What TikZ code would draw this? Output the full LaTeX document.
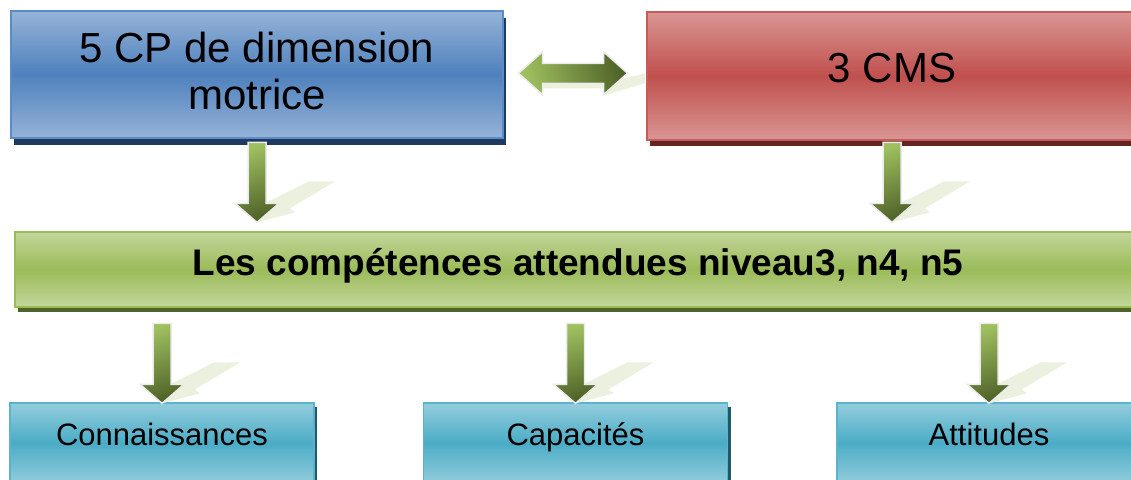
\documentclass[tikz,border=0pt]{standalone}
\usepackage{fontspec}
\setmainfont{Liberation Sans}
\usetikzlibrary{calc,shadows}
\definecolor{bluelt}{HTML}{95B3D7}
\definecolor{bluedk}{HTML}{4F81BD}
\definecolor{blueline}{HTML}{5B8BC8}
\definecolor{blueshd}{HTML}{1F3A5F}
\definecolor{redlt}{HTML}{D99694}
\definecolor{reddk}{HTML}{C0504D}
\definecolor{redline}{HTML}{C65B58}
\definecolor{redshd}{HTML}{632523}
\definecolor{grnlt}{HTML}{C3D69B}
\definecolor{grndk}{HTML}{9BBB59}
\definecolor{grnline}{HTML}{9BBB59}
\definecolor{grnshd}{HTML}{4F6228}
\definecolor{cyanlt}{HTML}{93CDDD}
\definecolor{cyandk}{HTML}{4BACC6}
\definecolor{cyanline}{HTML}{5BB4CC}
\definecolor{cyanshd}{HTML}{215968}
\definecolor{arrlt}{HTML}{9FC060}
\definecolor{arrdk}{HTML}{4F6228}
\definecolor{arrshadow}{HTML}{EBF1DE}
\newcommand{\blkdown}[1]{%
  \begin{scope}[shift={(#1)}]
    \fill[arrshadow] (0,0) -- (10,-20) -- (52,-41) -- (78,-41) -- (33,-14) -- (38,-10) -- cycle;
    \draw[blockarrow] (0,0) -- (-22,-19) -- (-9,-19) -- (-9,-80) -- (9,-80) -- (9,-19) -- (22,-19) -- cycle;
  \end{scope}}
\begin{document}
\begin{tikzpicture}[x=1pt,y=-1pt,
  box/.style={line width=1.3pt, inner sep=0pt},
  bluebox/.style={box, draw=blueline, top color=bluelt, bottom color=bluelt, middle color=bluedk,
    drop shadow={shadow xshift=3pt, shadow yshift=-7pt, fill=blueshd, opacity=1}},
  redbox/.style={box, draw=redline, top color=redlt, bottom color=redlt, middle color=reddk,
    drop shadow={shadow xshift=3pt, shadow yshift=-6pt, fill=redshd, opacity=1}},
  grnbox/.style={box, draw=grnline, top color=grnlt, bottom color=grnlt, middle color=grndk,
    drop shadow={shadow xshift=3pt, shadow yshift=-5pt, fill=grnshd, opacity=1}},
  cyanbox/.style={box, draw=cyanline, top color=cyanlt, bottom color=cyanlt, middle color=cyandk,
    minimum width=304pt, minimum height=80pt,
    drop shadow={shadow xshift=3pt, shadow yshift=-4pt, fill=cyanshd, opacity=1}},
  bigtxt/.style={font=\fontsize{42}{47}\selectfont, align=center, inner sep=0pt},
  bartxt/.style={font=\fontsize{37}{42}\selectfont\bfseries, inner sep=0pt},
  smalltxt/.style={font=\fontsize{31}{36}\selectfont, inner sep=0pt},
  blockarrow/.style={draw=white!92!black, line width=1.5pt, line join=miter,
    top color=arrlt, bottom color=arrdk, shading angle=20},
  dblarrow/.style={draw=white!92!black, line width=1.5pt,
    left color=arrlt, right color=arrdk, shading angle=105}
]
\useasboundingbox (0,0) rectangle (1131,479);
\clip (0,0) rectangle (1131,479);

% boxes
\node[bluebox, minimum width=492pt, minimum height=127pt] (cp) at (257,74.5) {};
\node[redbox, minimum width=490pt, minimum height=128pt] (cms) at (892,76) {};
\node[grnbox, minimum width=1126pt, minimum height=75pt] (bar) at (578,269.5) {};
\node[cyanbox] (conn) at (162,443) {};
\node[cyanbox] (capa) at (575.5,443) {};
\node[cyanbox] (atti) at (989,443) {};

% texts
\node[bigtxt] (cptext) at (257,71) {5 CP de dimension\\motrice};
\node[bigtxt, anchor=base] (cmstext) at (892,82) {3 CMS};
\node[bartxt, anchor=base] (bartext) at (578,275) {Les compétences attendues niveau3, n4, n5};
\node[smalltxt, anchor=base] (conntext) at (162,445) {Connaissances};
\node[smalltxt, anchor=base] (capatext) at (575.5,445) {Capacités};
\node[smalltxt, anchor=base] (attitext) at (989,445) {Attitudes};

% double arrow between the two top boxes
\coordinate (dm) at ($(cp.east)!0.5!(cms.west)+(-2,-2)$);
\begin{scope}[shift={(dm)}]
  \fill[arrshadow] (-30,10) -- (-30,15) -- (31,15) -- (31,21) -- (35,21) -- (72,10) -- (72,0) -- (45,7) -- (40,9) -- cycle;
  \draw[dblarrow] (-54.5,0) -- (-30.5,-21.5) -- (-30.5,-10) -- (30.5,-10) -- (30.5,-21.5) -- (54.5,0)
    -- (30.5,21.5) -- (30.5,10) -- (-30.5,10) -- (-30.5,21.5) -- cycle;
\end{scope}

% down arrows
\coordinate (t1) at ($(cp.center |- bar.north)+(0,-9)$);
\coordinate (t2) at ($(cms.center |- bar.north)+(0,-9)$);
\coordinate (t3) at ($(conn.north)+(0,1)$);
\coordinate (t4) at ($(capa.north)+(0,1)$);
\coordinate (t5) at ($(atti.north)+(0,1)$);
\blkdown{t1}
\blkdown{t2}
\blkdown{t3}
\blkdown{t4}
\blkdown{t5}
\end{tikzpicture}
\end{document}
